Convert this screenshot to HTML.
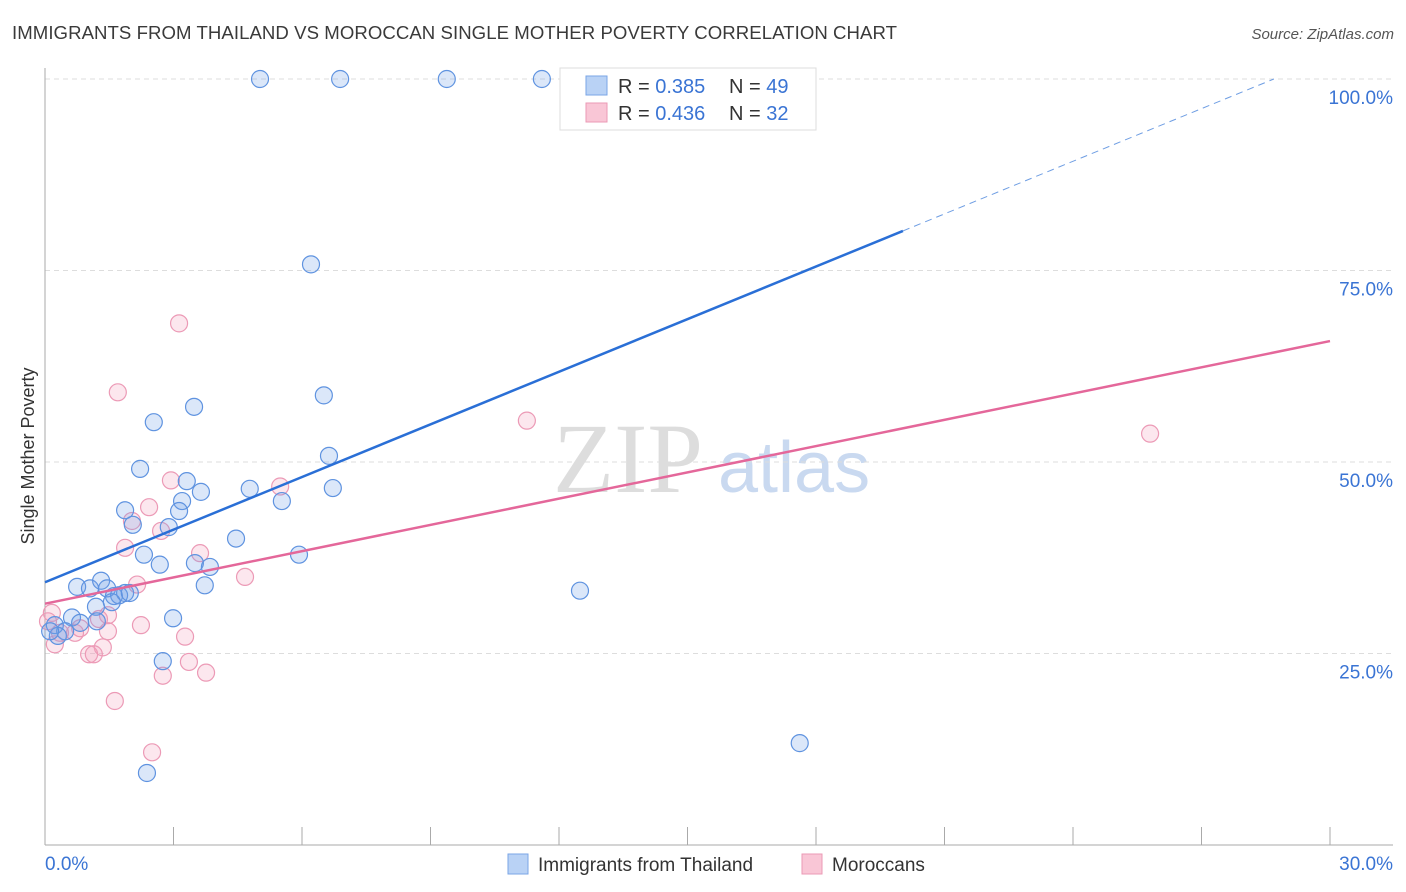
<!DOCTYPE html>
<html><head><meta charset="utf-8"><style>
body{margin:0;background:#fff;font-family:"Liberation Sans",sans-serif;}
#wrap{position:relative;width:1406px;height:892px;overflow:hidden;}
</style></head><body>
<div id="wrap">
<svg id="svg" width="1406" height="892" xmlns="http://www.w3.org/2000/svg" font-family="Liberation Sans, sans-serif">
<text x="12" y="39" font-size="18.6" fill="#3a3a3a" textLength="885">IMMIGRANTS FROM THAILAND VS MOROCCAN SINGLE MOTHER POVERTY CORRELATION CHART</text>
<text x="1394" y="39" font-size="15" fill="#555" font-style="italic" text-anchor="end">Source: ZipAtlas.com</text>
<text x="0" y="0" transform="translate(34,456) rotate(-90)" font-size="18" fill="#333" text-anchor="middle">Single Mother Poverty</text>
<text x="553" y="492" font-size="100" fill="#ddd" font-family="Liberation Serif, serif">ZIP</text>
<text x="718" y="492" font-size="72" fill="#c9d9f0">atlas</text>
<g id="grid"></g><g id="axes"></g><g id="pts"></g><g id="lines"></g>
<g>
<rect x="560" y="68" width="256" height="62" fill="#fff" stroke="#ddd"/>
<rect x="586" y="76" width="21" height="19" fill="#b9d2f5" stroke="#7aa5e6"/>
<rect x="586" y="103" width="21" height="19" fill="#f9c6d6" stroke="#eb9ab5"/>
<text x="618" y="93" font-size="20" fill="#333">R = <tspan fill="#3a74d4">0.385</tspan></text>
<text x="729" y="93" font-size="20" fill="#333">N = <tspan fill="#3a74d4">49</tspan></text>
<text x="618" y="120" font-size="20" fill="#333">R = <tspan fill="#3a74d4">0.436</tspan></text>
<text x="729" y="120" font-size="20" fill="#333">N = <tspan fill="#3a74d4"> 32</tspan></text>
</g>
<g>
<rect x="508" y="854" width="20" height="20" fill="#b9d2f5" stroke="#7aa5e6"/>
<text x="538" y="871" font-size="19" fill="#333">Immigrants from Thailand</text>
<rect x="802" y="854" width="20" height="20" fill="#f9c6d6" stroke="#eb9ab5"/>
<text x="832" y="871" font-size="19" fill="#333">Moroccans</text>
</g>
</svg></div>
<script>
const blueX=[5.02,6.89,9.38,11.6,6.21,6.51,3.48,2.54,2.22,6.63,3.31,3.64,4.78,6.72,5.53,3.2,1.87,3.13,2.05,2.89,4.46,2.31,5.93,2.68,3.5,3.85,3.73,0.75,1.05,1.31,1.45,1.61,1.87,1.73,1.98,1.56,1.19,2.99,0.63,0.82,1.21,0.23,0.47,0.3,0.12,2.75,2.38,12.49,17.62];
const blueY=[100,100,100,100,75.8,58.7,57.2,55.2,49.1,50.8,47.5,46.1,46.5,46.6,44.9,44.9,43.7,43.6,41.8,41.5,40.0,37.9,37.9,36.6,36.8,36.3,33.9,33.7,33.5,34.5,33.5,32.5,32.9,32.6,32.9,31.7,31.1,29.6,29.7,29.0,29.2,28.7,27.9,27.3,27.9,24.0,9.4,33.2,13.3];
const pinkX=[3.13,1.7,11.25,25.8,2.94,5.49,2.43,2.03,2.71,1.87,3.62,2.15,4.67,1.47,1.26,2.24,0.7,0.82,0.16,0.07,0.35,3.27,1.35,1.03,1.14,1.63,2.5,2.75,3.36,3.76,1.47,0.23];
const pinkY=[68.1,59.1,55.4,53.7,47.6,46.8,44.1,42.3,41.0,38.8,38.1,34.0,35.0,30.0,29.5,28.7,27.7,28.3,30.3,29.2,27.7,27.2,25.8,24.9,24.9,18.8,12.1,22.1,23.9,22.5,27.9,26.2];
const blueLine=[34.3,2.29]; // intercept, slope per %
const pinkLine=[31.5,1.143];
const xTicks=[0,30], yTicks=[25,50,75,100];
const X=v=>45+v/30*1285, Y=v=>845-v/100*766;
const NS="http://www.w3.org/2000/svg";
function mk(t,a,p){const e=document.createElementNS(NS,t);for(const k in a)e.setAttribute(k,a[k]);p.appendChild(e);return e;}
const grid=document.getElementById('grid'),axes=document.getElementById('axes'),pts=document.getElementById('pts'),lines=document.getElementById('lines');
yTicks.forEach(v=>{
 const l=mk('line',{x1:45,x2:1393,y1:Y(v),y2:Y(v),stroke:'#ddd','stroke-dasharray':'5,4'},grid);
 
 
 const t=mk('text',{x:1393,y:Y(v)+25,'font-size':19,fill:'#3a74d4','text-anchor':'end'},axes);t.textContent=v.toFixed(1)+'%';
 
 
});
mk('line',{x1:45,x2:45,y1:68,y2:845,stroke:'#aaa'},axes);
mk('line',{x1:45,x2:1393,y1:845,y2:845,stroke:'#aaa'},axes);
for(let i=0;i<=10;i++){mk('line',{x1:X(i*3),x2:X(i*3),y1:827,y2:845,stroke:'#aaa'},axes);}
xTicks.forEach((v,i)=>{const t=mk('text',{x:i?1393:45,y:870,'font-size':19,fill:'#3a74d4','text-anchor':i?'end':'start'},axes);t.textContent=v.toFixed(1)+'%';
 
 });
function dots(xs,ys,fill,stroke,name){xs.forEach((x,i)=>{const c=mk('circle',{cx:X(x),cy:Y(ys[i]),r:8.5,fill:fill,stroke:stroke,'stroke-width':1.2},pts);
 
 });}
dots(pinkX,pinkY,'rgba(244,160,188,0.25)','#ec9ab6','point-moroccans');
dots(blueX,blueY,'rgba(110,160,230,0.25)','#5f93e0','point-thailand');
const yb=x=>blueLine[0]+blueLine[1]*x, yp=x=>pinkLine[0]+pinkLine[1]*x;
const xEndSolid=20.03, xEndDash=(100-blueLine[0])/blueLine[1];
let l=mk('line',{x1:X(0),y1:Y(yb(0)),x2:X(xEndSolid),y2:Y(yb(xEndSolid)),stroke:'#2a6fd6','stroke-width':2.5},lines);


l=mk('line',{x1:X(xEndSolid),y1:Y(yb(xEndSolid)),x2:X(xEndDash),y2:Y(100),stroke:'#6f9ee3','stroke-width':1,'stroke-dasharray':'7,5'},lines);


l=mk('line',{x1:X(0),y1:Y(yp(0)),x2:X(30),y2:Y(yp(30)),stroke:'#e4679a','stroke-width':2.5},lines);


</script>
</body></html>
